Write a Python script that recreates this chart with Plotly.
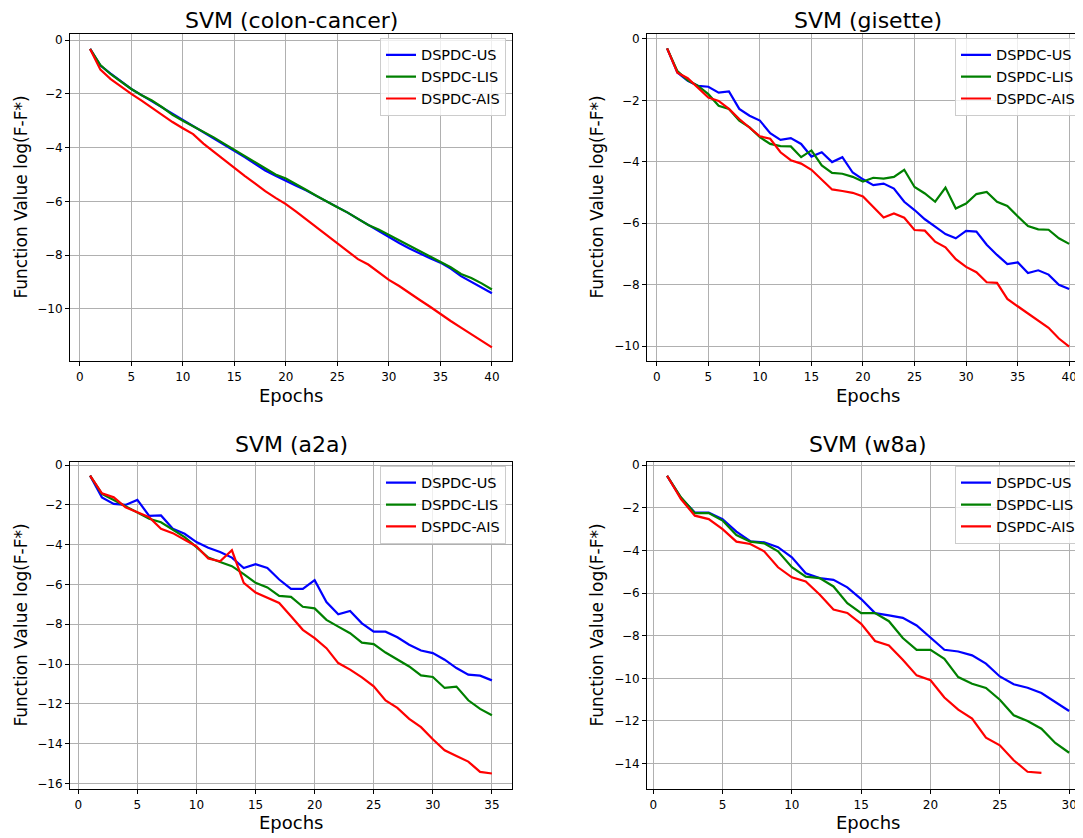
import plotly.graph_objects as go

# ---------------- data ----------------
series_names = ["DSPDC-US", "DSPDC-LIS", "DSPDC-AIS"]
series_colors = ["#0000ff", "#008000", "#ff0000"]

titles = ["SVM (colon-cancer)", "SVM (gisette)", "SVM (a2a)", "SVM (w8a)"]
x_label = "Epochs"
y_label = "Function Value log(F-F*)"

colon_us = [-0.33, -0.95, -1.25, -1.55, -1.82, -2.05, -2.28, -2.52, -2.73, -2.98,
            -3.2, -3.43, -3.65, -3.88, -4.1, -4.35, -4.6, -4.85, -5.05, -5.22,
            -5.42, -5.6, -5.8, -6.0, -6.2, -6.42, -6.65, -6.88, -7.1, -7.35,
            -7.55, -7.75, -7.95, -8.12, -8.28, -8.5, -8.78, -9.0, -9.22, -9.42]
colon_lis = [-0.33, -0.93, -1.27, -1.55, -1.82, -2.05, -2.25, -2.5, -2.78, -3.0,
             -3.2, -3.4, -3.62, -3.85, -4.08, -4.32, -4.55, -4.78, -5.0, -5.15,
             -5.35, -5.58, -5.8, -6.02, -6.22, -6.42, -6.65, -6.88, -7.05, -7.25,
             -7.42, -7.65, -7.85, -8.05, -8.22, -8.45, -8.7, -8.85, -9.05, -9.28]
colon_ais = [-0.33, -1.1, -1.45, -1.73, -2.0, -2.25, -2.52, -2.78, -3.05, -3.28,
             -3.5, -3.85, -4.15, -4.45, -4.78, -5.05, -5.33, -5.62, -5.87, -6.1,
             -6.38, -6.68, -6.98, -7.28, -7.57, -7.85, -8.15, -8.35, -8.65, -8.92,
             -9.15, -9.42, -9.67, -9.92, -10.2, -10.45, -10.7, -10.95, -11.2, -11.43]

gisette_us = [-0.31, -1.1, -1.37, -1.53, -1.56, -1.75, -1.71, -2.28, -2.5, -2.66,
              -3.07, -3.29, -3.23, -3.42, -3.83, -3.69, -4.01, -3.85, -4.35, -4.57,
              -4.76, -4.71, -4.87, -5.3, -5.57, -5.87, -6.11, -6.35, -6.49, -6.25,
              -6.27, -6.7, -7.03, -7.33, -7.27, -7.62, -7.53, -7.67, -8.0, -8.14]
gisette_lis = [-0.31, -1.05, -1.35, -1.53, -1.8, -2.18, -2.28, -2.66, -2.88, -3.2,
               -3.42, -3.49, -3.5, -3.85, -3.63, -4.12, -4.36, -4.39, -4.49, -4.64,
               -4.52, -4.55, -4.49, -4.26, -4.82, -5.03, -5.3, -4.84, -5.52, -5.36,
               -5.05, -4.98, -5.3, -5.44, -5.77, -6.09, -6.2, -6.21, -6.49, -6.67]
gisette_ais = [-0.31, -1.1, -1.28, -1.58, -1.91, -2.02, -2.28, -2.61, -2.88, -3.17,
               -3.25, -3.69, -3.95, -4.06, -4.26, -4.58, -4.9, -4.95, -5.01, -5.13,
               -5.46, -5.81, -5.68, -5.82, -6.22, -6.24, -6.6, -6.78, -7.17, -7.42,
               -7.59, -7.92, -7.94, -8.46, -8.7, -8.94, -9.18, -9.4, -9.75, -10.01]

a2a_us = [-0.53, -1.62, -1.95, -2.0, -1.75, -2.55, -2.53, -3.2, -3.45, -3.87,
          -4.15, -4.37, -4.65, -5.17, -4.98, -5.17, -5.75, -6.22, -6.22, -5.78,
          -6.88, -7.5, -7.33, -7.95, -8.37, -8.37, -8.65, -9.03, -9.32, -9.45,
          -9.78, -10.2, -10.53, -10.58, -10.82]
a2a_lis = [-0.53, -1.45, -1.75, -2.08, -2.37, -2.7, -2.87, -3.25, -3.62, -4.12,
           -4.65, -4.87, -5.08, -5.48, -5.92, -6.15, -6.57, -6.62, -7.12, -7.2,
           -7.78, -8.12, -8.45, -8.92, -9.0, -9.42, -9.78, -10.12, -10.57, -10.65,
           -11.2, -11.13, -11.82, -12.25, -12.57]
a2a_ais = [-0.53, -1.42, -1.62, -2.12, -2.37, -2.62, -3.2, -3.42, -3.75, -4.08,
           -4.7, -4.83, -4.28, -5.92, -6.4, -6.67, -6.93, -7.6, -8.28, -8.7,
           -9.2, -9.95, -10.28, -10.67, -11.12, -11.83, -12.2, -12.75, -13.17, -13.78,
           -14.33, -14.62, -14.9, -15.42, -15.5]

w8a_us = [-0.5, -1.54, -2.22, -2.22, -2.53, -3.12, -3.57, -3.62, -3.85, -4.32,
          -5.07, -5.3, -5.38, -5.73, -6.28, -6.94, -7.05, -7.16, -7.52, -8.07,
          -8.66, -8.74, -8.92, -9.31, -9.91, -10.28, -10.44, -10.69, -11.11, -11.53]
w8a_lis = [-0.5, -1.51, -2.25, -2.25, -2.6, -3.28, -3.59, -3.67, -4.04, -4.79,
           -5.23, -5.3, -5.69, -6.47, -6.94, -6.94, -7.32, -8.11, -8.66, -8.66,
           -9.08, -9.94, -10.25, -10.45, -11.0, -11.73, -12.0, -12.36, -13.03, -13.49]
w8a_ais = [-0.5, -1.59, -2.37, -2.53, -3.0, -3.59, -3.7, -4.04, -4.79, -5.26,
           -5.46, -6.07, -6.77, -6.93, -7.44, -8.25, -8.46, -9.13, -9.86, -10.09,
           -10.9, -11.47, -11.89, -12.78, -13.14, -13.84, -14.38, -14.43]

panels = [
    [colon_us, colon_lis, colon_ais],
    [gisette_us, gisette_lis, gisette_ais],
    [a2a_us, a2a_lis, a2a_ais],
    [w8a_us, w8a_lis, w8a_ais],
]

x_ticks = [list(range(0, 41, 5)), list(range(0, 41, 5)),
           list(range(0, 36, 5)), list(range(0, 31, 5))]
y_ticks = [list(range(0, -11, -2)), list(range(0, -11, -2)),
           list(range(0, -17, -2)), list(range(0, -15, -2))]

# ---------------- layout geometry ----------------
# The page places the figure 8px from the top-left corner (body margin),
# so the figure is 8px smaller and all target pixel positions are offset.
OFF = 8
W, H = 1083 - OFF, 838 - OFF
FONT = "DejaVu Sans"

def px_x(p):
    return (p - OFF) / W

def px_y(p):
    return 1 - (p - OFF) / H

x_domains = [[px_x(70), px_x(512)], [px_x(647), 1.0], [px_x(70), px_x(512)], [px_x(647), 1.0]]
y_domains = [[px_y(360), px_y(31)], [px_y(360), px_y(31)], [px_y(790), px_y(460.7)], [px_y(790), px_y(460.7)]]
x_ranges = [[-0.95, 41.95], [-0.95, 41.34], [-0.7, 36.7], [-0.45, 31.0]]
y_ranges = [[-11.95, 0.23], [-10.49, 0.16], [-16.29, 0.18], [-15.2, 0.17]]

fig = go.Figure()

legend_names = ["legend", "legend2", "legend3", "legend4"]

for i, data in enumerate(panels):
    ax = "" if i == 0 else str(i + 1)
    for name, color, ys in zip(series_names, series_colors, data):
        xs = list(range(1, len(ys) + 1))
        fig.add_trace(go.Scatter(
            x=xs, y=ys, mode="lines", name=name,
            line=dict(color=color, width=2.2),
            xaxis="x" + ax, yaxis="y" + ax,
            legend=legend_names[i],
        ))

layout = dict(
    width=W, height=H,
    margin=dict(l=0, r=0, t=0, b=0),
    paper_bgcolor="white", plot_bgcolor="white",
    font=dict(family=FONT, color="black"),
    showlegend=True,
)

right_side = [False, True, False, True]
for i in range(4):
    ax = "" if i == 0 else str(i + 1)
    layout["xaxis" + ax] = dict(
        domain=x_domains[i], range=x_ranges[i], anchor="y" + ax,
        tickvals=x_ticks[i], showgrid=True, gridcolor="#b0b0b0", gridwidth=1,
        showline=True, linecolor="black", linewidth=1, mirror=True,
        ticks="outside", ticklen=4, tickcolor="black",
        tickfont=dict(size=12, family=FONT), zeroline=False,
    )
    layout["yaxis" + ax] = dict(
        domain=y_domains[i], range=y_ranges[i], anchor="x" + ax,
        tickvals=y_ticks[i], showgrid=True, gridcolor="#b0b0b0", gridwidth=1,
        showline=True, linecolor="black", linewidth=1,
        mirror=(not right_side[i]),
        ticks="outside", ticklen=4, tickcolor="black",
        tickfont=dict(size=12, family=FONT), zeroline=False,
    )
    legend_right = 506 if not right_side[i] else 1081
    legend_top = 35 if i < 2 else 465
    layout[legend_names[i]] = dict(
        x=px_x(legend_right), y=px_y(legend_top), xanchor="right", yanchor="top",
        bgcolor="rgba(255,255,255,0.8)", bordercolor="#cccccc", borderwidth=1,
        font=dict(size=14.5, family=FONT, color="black"),
        tracegroupgap=0, itemwidth=30,
    )

fig.update_layout(**layout)

annotations = []
centers_x = [291, 868, 291, 868]
title_y = [18, 18, 444, 444]
xlabel_y = [394, 394, 823, 823]
ylabel_x = [21, 597, 21, 597]
ylabel_y = [195.5, 195.5, 625.5, 625.5]
for i in range(4):
    annotations.append(dict(text=titles[i], x=px_x(centers_x[i]), y=px_y(title_y[i]),
                            xref="paper", yref="paper", showarrow=False,
                            xanchor="center", yanchor="middle",
                            font=dict(size=22, family=FONT, color="black")))
    annotations.append(dict(text=x_label, x=px_x(centers_x[i]), y=px_y(xlabel_y[i]),
                            xref="paper", yref="paper", showarrow=False,
                            xanchor="center", yanchor="middle",
                            font=dict(size=18, family=FONT, color="black")))
    annotations.append(dict(text=y_label, x=px_x(ylabel_x[i]), y=px_y(ylabel_y[i]),
                            xref="paper", yref="paper", showarrow=False, textangle=-90,
                            xanchor="center", yanchor="middle",
                            font=dict(size=17, family=FONT, color="black")))
fig.update_layout(annotations=annotations)

fig.write_html("out.html")
